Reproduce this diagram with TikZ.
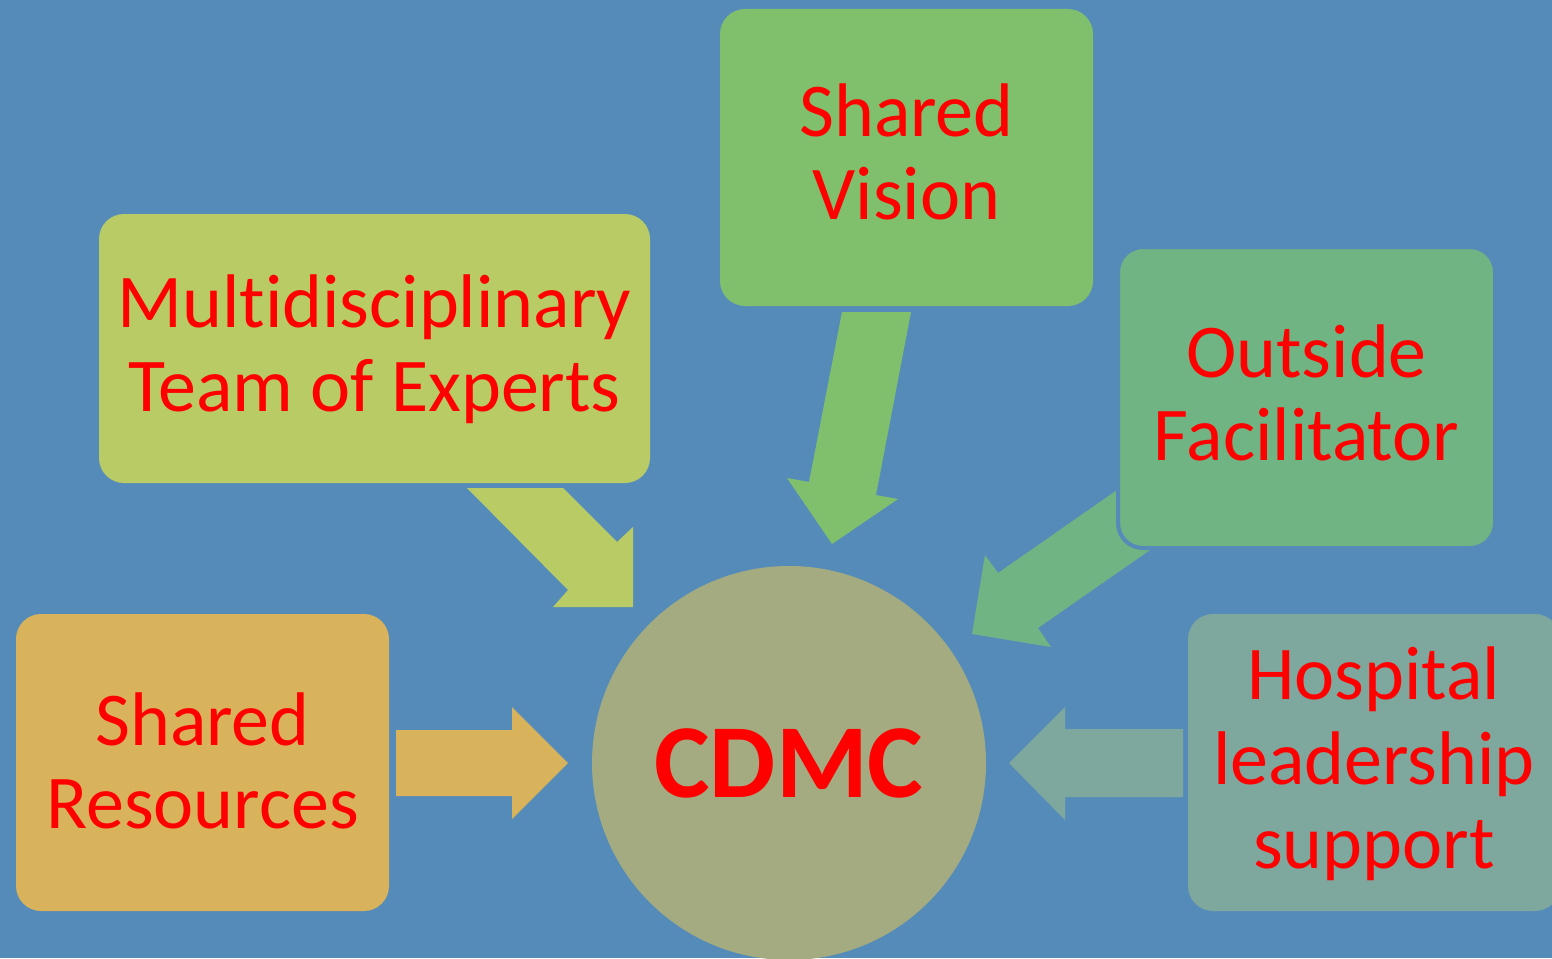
\documentclass[tikz,border=0pt]{standalone}
\usepackage{fontspec}
\setmainfont{Carlito}[Ligatures={NoCommon}]
\definecolor{bg}{HTML}{558BB8}
\definecolor{cmulti}{HTML}{B8CB65}
\definecolor{cvision}{HTML}{80C06D}
\definecolor{coutside}{HTML}{70B484}
\definecolor{chosp}{HTML}{7EA79D}
\definecolor{cres}{HTML}{D9B25C}
\definecolor{ccdmc}{HTML}{A4AB80}
\definecolor{txtred}{HTML}{FF0000}
\tikzset{
  box/.style={rounded corners=25pt, inner sep=0pt, minimum width=373pt, minimum height=297pt},
  lbl/.style={align=center, text=txtred, inner sep=0pt, font=\fontsize{76}{83.5}\selectfont},
  hub/.style={circle, inner sep=0pt, minimum size=394pt, fill=ccdmc, text=txtred,
    font=\fontsize{105}{110}\selectfont\bfseries},
}
\begin{document}
\begin{tikzpicture}[x=1pt,y=-1pt]
\fill[bg] (0,0) rectangle (1552,958);
\useasboundingbox (0,0) rectangle (1552,958);
\begin{scope}
\clip (0,0) rectangle (1552,958);
% arrows
\fill[cres] (396,730) -- (512,730) -- (512,707) -- (568,763) -- (512,819) -- (512,796) -- (396,796) -- cycle;
\fill[chosp] (1183,729) -- (1065,729) -- (1065,707) -- (1009,763) -- (1065,820) -- (1065,797) -- (1183,797) -- cycle;
\fill[cmulti] (467,488) -- (563,488) -- (617,542) -- (633,527) -- (633,607) -- (553,607) -- (568,590) -- cycle;
\fill[cvision] (842,312) -- (911,312) -- (876,495) -- (898,499) -- (832,544) -- (787,478) -- (809,482) -- cycle;
\fill[coutside] (998,573) -- (1130,481) -- (1163,541) -- (1038,628) -- (1051,647) -- (972,634) -- (985,555) -- cycle;
% boxes
\node[box, fill=cvision] (vision) at (906.5,157.5) {};
\node[lbl] (visiontext) at (906.5,152) {Shared\\Vision};
\node[box, fill=cmulti, minimum width=551pt, minimum height=269pt] (multi) at (374.5,348.5) {};
\node[lbl] (multitext) at (374.5,349) {Multidisciplinary\\Team of Experts};
\node[box, fill=coutside, draw=bg, line width=4pt, minimum width=377pt, minimum height=301pt] (outside) at (1306.5,397.5) {};
\node[lbl] (outsidetext) at (1306.5,393) {Outside\\Facilitator};
\node[box, fill=chosp, minimum width=372pt] (hosp) at (1374,762.5) {};
\node[lbl, font=\fontsize{76}{84.5}\selectfont] (hosptext) at (1374,764) {Hospital\\leadership\\support};
\node[box, fill=cres] (res) at (202.5,762.5) {};
\node[lbl] (restext) at (202.5,761) {Shared\\Resources};
\node[hub] (cdmc) at (789,763) {CDMC};
\end{scope}
\end{tikzpicture}
\end{document}
